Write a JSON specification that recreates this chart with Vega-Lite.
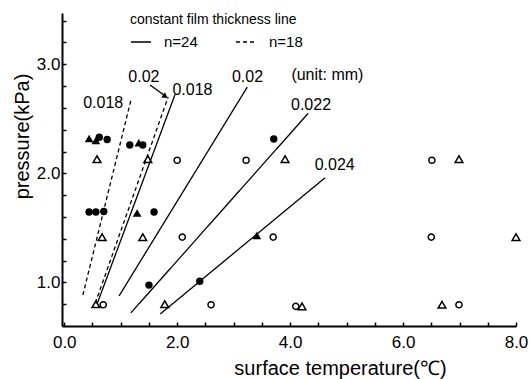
{
  "$schema": "https://vega.github.io/schema/vega-lite/v6.json",
  "width": 454,
  "height": 313,
  "autosize": {"type": "none"},
  "padding": {"left": 62, "top": 13, "right": 15, "bottom": 53},
  "background": "white",
  "config": {
    "font": "Liberation Sans",
    "view": {"stroke": null},
    "axis": {"grid": false, "domainColor": "black", "domainWidth": 2, "tickColor": "black", "tickWidth": 1.5, "labelColor": "black", "titleColor": "black", "labelFont": "Liberation Sans", "titleFont": "Liberation Sans", "titleFontWeight": "normal"},
    "legend": {"labelFont": "Liberation Sans", "titleFont": "Liberation Sans", "labelColor": "black", "titleColor": "black", "titleFontWeight": "normal", "padding": 0}
  },
  "datasets": {
    "lines": [
      {"id": "a", "n": "n=18", "T": 0.33, "p": 0.884},
      {"id": "a", "n": "n=18", "T": 1.18, "p": 2.67},
      {"id": "b", "n": "n=18", "T": 0.55, "p": 0.81},
      {"id": "b", "n": "n=18", "T": 1.84, "p": 2.70},
      {"id": "c", "n": "n=24", "T": 0.58, "p": 0.80},
      {"id": "c", "n": "n=24", "T": 1.96, "p": 2.72},
      {"id": "d", "n": "n=24", "T": 0.97, "p": 0.875},
      {"id": "d", "n": "n=24", "T": 3.24, "p": 2.79},
      {"id": "e", "n": "n=24", "T": 1.18, "p": 0.72},
      {"id": "e", "n": "n=24", "T": 4.32, "p": 2.55},
      {"id": "f", "n": "n=24", "T": 1.70, "p": 0.71},
      {"id": "f", "n": "n=24", "T": 4.62, "p": 1.96}
    ],
    "arrow": [
      {"T": 1.52, "p": 2.81},
      {"T": 1.77, "p": 2.715}
    ],
    "head": [
      {"T": 1.79, "p": 2.705}
    ],
    "filled": [
      {"n": "n=18", "T": 0.44, "p": 2.32},
      {"n": "n=18", "T": 0.56, "p": 2.30},
      {"n": "n=18", "T": 1.32, "p": 2.28},
      {"n": "n=18", "T": 1.29, "p": 1.636},
      {"n": "n=18", "T": 3.41, "p": 1.43},
      {"n": "n=24", "T": 0.62, "p": 2.33},
      {"n": "n=24", "T": 0.76, "p": 2.31},
      {"n": "n=24", "T": 1.16, "p": 2.26},
      {"n": "n=24", "T": 1.39, "p": 2.26},
      {"n": "n=24", "T": 0.44, "p": 1.645},
      {"n": "n=24", "T": 0.56, "p": 1.645},
      {"n": "n=24", "T": 0.70, "p": 1.65},
      {"n": "n=24", "T": 1.59, "p": 1.645},
      {"n": "n=24", "T": 1.50, "p": 0.975},
      {"n": "n=24", "T": 2.40, "p": 1.01},
      {"n": "n=24", "T": 3.71, "p": 2.315}
    ],
    "open": [
      {"n": "n=24", "T": 2.00, "p": 2.12},
      {"n": "n=24", "T": 3.22, "p": 2.12},
      {"n": "n=24", "T": 6.51, "p": 2.12},
      {"n": "n=24", "T": 2.09, "p": 1.415},
      {"n": "n=24", "T": 3.70, "p": 1.415},
      {"n": "n=24", "T": 6.50, "p": 1.415},
      {"n": "n=24", "T": 0.69, "p": 0.795},
      {"n": "n=24", "T": 2.60, "p": 0.795},
      {"n": "n=24", "T": 4.10, "p": 0.78},
      {"n": "n=24", "T": 6.99, "p": 0.795},
      {"n": "n=18", "T": 0.58, "p": 2.13},
      {"n": "n=18", "T": 1.48, "p": 2.13},
      {"n": "n=18", "T": 3.91, "p": 2.13},
      {"n": "n=18", "T": 6.99, "p": 2.13},
      {"n": "n=18", "T": 0.67, "p": 1.415},
      {"n": "n=18", "T": 1.39, "p": 1.415},
      {"n": "n=18", "T": 8.00, "p": 1.415},
      {"n": "n=18", "T": 0.56, "p": 0.80},
      {"n": "n=18", "T": 1.78, "p": 0.80},
      {"n": "n=18", "T": 4.21, "p": 0.78},
      {"n": "n=18", "T": 6.69, "p": 0.795}
    ],
    "labels": [
      {"T": 0.69, "p": 2.645, "label": "0.018"},
      {"T": 1.41, "p": 2.883, "label": "0.02"},
      {"T": 2.27, "p": 2.764, "label": "0.018"},
      {"T": 3.245, "p": 2.883, "label": "0.02"},
      {"T": 4.37, "p": 2.626, "label": "0.022"},
      {"T": 4.79, "p": 2.076, "label": "0.024"},
      {"T": 4.66, "p": 2.90, "label": "(unit: mm)"}
    ]
  },
  "encoding": {
    "x": {
      "field": "T", "type": "quantitative",
      "scale": {"domain": [-0.04, 8], "nice": false, "zero": false},
      "axis": {
        "values": [0, 0.5, 1, 1.5, 2, 2.5, 3, 3.5, 4, 4.5, 5, 5.5, 6, 6.5, 7, 7.5, 8],
        "labelExpr": "datum.value % 2 == 0 ? format(datum.value, '.1f') : ''",
        "tickSize": -4, "labelPadding": 12, "labelFontSize": 17, "labelFlush": false, "labelOverlap": false,
        "title": "surface temperature(℃)", "titleFontSize": 20, "titleX": 278, "titleY": 48, "titleBaseline": "alphabetic", "titleAlign": "center"
      }
    },
    "y": {
      "field": "p", "type": "quantitative",
      "scale": {"domain": [0.6, 3.47], "nice": false, "zero": false},
      "axis": {
        "values": [0.8, 1, 1.2, 1.4, 1.6, 1.8, 2, 2.2, 2.4, 2.6, 2.8, 3, 3.2, 3.4],
        "labelExpr": "abs(datum.value - round(datum.value)) < 0.001 ? format(datum.value, '.1f') : ''",
        "tickSize": -4, "labelPadding": 6, "labelFontSize": 17, "labelFlush": false, "labelOverlap": false,
        "title": "pressure(kPa)", "titleFontSize": 20, "titleAngle": -90, "titleX": -34, "titleY": 123, "titleBaseline": "alphabetic", "titleAlign": "center"
      }
    }
  },
  "layer": [
    {
      "data": {"name": "lines"},
      "mark": {"type": "line", "color": "black", "strokeWidth": 1.3},
      "encoding": {
        "detail": {"field": "id"},
        "strokeDash": {
          "field": "n", "type": "nominal",
          "scale": {"domain": ["n=24", "n=18"], "range": [[1, 0], [4, 3]]},
          "legend": {"title": "constant film thickness line", "orient": "none", "legendX": 68, "legendY": 0, "direction": "horizontal", "symbolType": "stroke", "symbolSize": 400, "symbolStrokeWidth": 1.3, "symbolStrokeColor": "black", "labelFontSize": 15, "titleFontSize": 14, "labelOffset": 12, "columnPadding": 35, "titlePadding": 4}
        }
      }
    },
    {
      "data": {"name": "arrow"},
      "mark": {"type": "line", "color": "black", "strokeWidth": 1.3},
      "encoding": {}
    },
    {
      "data": {"name": "head"},
      "mark": {"type": "point", "shape": "triangle-right", "angle": 36, "filled": true, "color": "black", "size": 40, "opacity": 1},
      "encoding": {}
    },
    {
      "data": {"name": "filled"},
      "mark": {"type": "point", "filled": true, "color": "black", "opacity": 1},
      "encoding": {
        "shape": {
          "field": "n", "type": "nominal",
          "scale": {"domain": ["n=24", "n=18"], "range": ["circle", "triangle-up"]},
          "legend": {"title": "blockade", "orient": "none", "legendX": 326, "legendY": 9, "direction": "horizontal", "labelFontSize": 15, "titleFontSize": 15, "labelOffset": 3, "columnPadding": 12, "symbolSize": 60, "titlePadding": 2, "symbolFillColor": "black", "symbolStrokeColor": "black"}
        },
        "size": {
          "field": "n", "type": "nominal",
          "scale": {"domain": ["n=24", "n=18"], "range": [55, 75]},
          "legend": null
        }
      }
    },
    {
      "data": {"name": "open"},
      "mark": {"type": "point", "filled": false, "color": "black", "opacity": 1, "strokeWidth": 1.5},
      "encoding": {
        "shape": {
          "field": "n", "type": "nominal",
          "scale": {"domain": ["n=24", "n=18"], "range": ["circle", "triangle-up"]},
          "legend": {"title": "no blockade", "orient": "none", "legendX": 326, "legendY": 42, "direction": "horizontal", "labelFontSize": 15, "titleFontSize": 15, "labelOffset": 3, "columnPadding": 12, "symbolSize": 45, "titlePadding": 2, "symbolFillColor": "white", "symbolStrokeColor": "black", "symbolStrokeWidth": 1.5}
        },
        "size": {
          "field": "n", "type": "nominal",
          "scale": {"domain": ["n=24", "n=18"], "range": [38, 60]},
          "legend": null
        }
      }
    },
    {
      "data": {"name": "labels"},
      "mark": {"type": "text", "fontSize": 16, "color": "black", "baseline": "middle", "align": "center"},
      "encoding": {"text": {"field": "label"}}
    }
  ],
  "resolve": {"scale": {"shape": "independent", "size": "independent"}, "legend": {"shape": "independent"}}
}
